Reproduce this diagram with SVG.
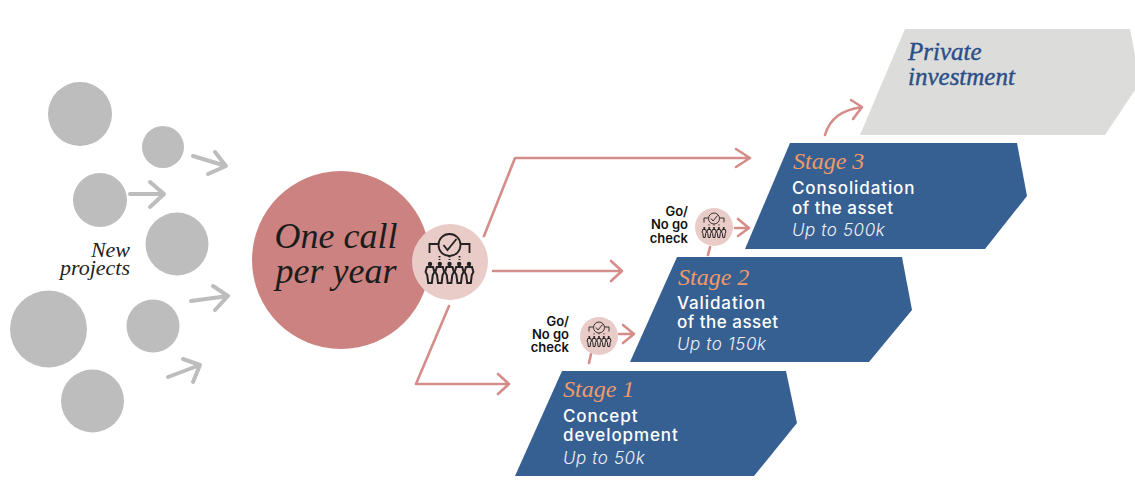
<svg xmlns="http://www.w3.org/2000/svg" width="1135" height="484" viewBox="0 0 1135 484">
<style>
.g{fill:#bdbdbd}
.ga{fill:none;stroke:#bdbdbd;stroke-width:4;stroke-linecap:round;stroke-linejoin:round}
.pa{fill:none;stroke:#d58d8a;stroke-width:2.6;stroke-linecap:round;stroke-linejoin:round}
.st{fill:#376092}
.se{font:italic 24px "Liberation Serif",serif}
.sh{fill:#f09a68}
.b{font:500 17px "Inter","Liberation Sans",sans-serif;fill:#fff;letter-spacing:.9px}
.n{letter-spacing:.5px}
.u{font:italic 300 17px "Inter","Liberation Sans",sans-serif;fill:#eef2f7;letter-spacing:.6px}
.c{font:600 13px "Inter","Liberation Sans",sans-serif;fill:#111;text-anchor:end}
.ic{fill:none;stroke:#222;stroke-width:1.8}
</style>
<defs>
<g id="p"><circle cx="0" cy="-9" r="2.200" fill="#222"/><path d="M-3-6h6l1.400 5-1.600 3-1 8h-3.600l-1-8-1.600-3z" fill="none" stroke="#222" stroke-width="2"/></g>
<g id="icon">
<circle class="ic" cx="0" cy="-17" r="11"/>
<path class="ic" d="M-6-17l4 5 9-11" stroke-width="2.400"/>
<path class="ic" d="M-11-18h-9v9M11-18h9v9"/>
<path class="ic" d="M0-6v4M-10-6v4M10-6v4" stroke-dasharray="1.500 1.500"/>
<use href="#p" x="-19.500" y="11"/><use href="#p" x="-9.700" y="11"/><use href="#p" x="0" y="11"/><use href="#p" x="9.700" y="11"/><use href="#p" x="19.500" y="11"/>
</g>
</defs>
<rect width="1135" height="484" fill="#fff"/>
<g id="new-projects">
<circle class="g" cx="80" cy="114" r="32"/>
<circle class="g" cx="163" cy="147" r="21"/>
<circle class="g" cx="100" cy="200" r="27"/>
<circle class="g" cx="177" cy="244" r="31.500"/>
<circle class="g" cx="48.500" cy="329" r="38.500"/>
<circle class="g" cx="153" cy="326" r="26.500"/>
<circle class="g" cx="92.500" cy="401" r="31.500"/>
<text text-anchor="end" style="font:italic 22px 'Liberation Serif',serif" fill="#222"><tspan x="130" y="257">New</tspan><tspan x="130" y="275">projects</tspan></text>
<path class="ga" d="M193 156L226 166M215 152L226 166L208 174"/>
<path class="ga" d="M130 194H164M150 182L164 194L150 207"/>
<path class="ga" d="M191 301L228 296M213 286L228 296L215 310"/>
<path class="ga" d="M168 377L200 365M183 359L200 365L193 382"/>
</g>
<g id="connectors">
<path class="pa" d="M484 236L515 158H750M736 149L750 158L736 167"/>
<path class="pa" d="M493 271H622M611 261L622 271L611 281"/>
<path class="pa" d="M449 306L416 384H509M498 374L509 384L498 394"/>
<path class="pa" d="M619 334H634M623 325L634 334L623 343"/>
<path class="pa" d="M591 354L589 363"/>
<path class="pa" d="M735 228H749M738 219L749 228L738 236"/>
<path class="pa" d="M710 247L708 255"/>
<path class="pa" d="M825 135C830 118 842 110 862 107M851 100L862 107L853 119"/>
</g>
<g id="one-call">
<circle cx="341" cy="260" r="89" fill="#cb8280"/>
<text text-anchor="middle" style="font:italic 36px 'Liberation Serif',serif" fill="#1c1c1c"><tspan x="336" y="248">One call</tspan><tspan x="336" y="283">per year</tspan></text>
</g>
<g id="review-main">
<circle cx="450" cy="262" r="38" fill="#e9cbc8"/>
<use href="#icon" transform="translate(449.500 262)"/>
</g>
<g id="private-investment">
<path d="M905 29H1130L1135 55V90L1105 135H860Z" fill="#dcdcda"/>
<text class="se" x="908" y="60" fill="#2a4f88" stroke="#2a4f88" stroke-width=".4" style="font-size:25px">Private</text>
<text class="se" x="908" y="85" fill="#2a4f88" stroke="#2a4f88" stroke-width=".4" style="font-size:25px">investment</text>
</g>
<g id="stage-3">
<path class="st" d="M790 143H1017L1027 196L985 249H745Z"/>
<text class="se sh" x="793" y="169">Stage 3</text>
<text class="b" x="792" y="194">Consolidation</text>
<text class="b n" x="792" y="214">of the asset</text>
<text class="u" x="792" y="236">Up to 500k</text>
</g>
<g id="stage-2">
<path class="st" d="M677 257H902L912 310L869 362H630Z"/>
<text class="se sh" x="678" y="285">Stage 2</text>
<text class="b" x="677" y="309">Validation</text>
<text class="b n" x="677" y="328">of the asset</text>
<text class="u" x="677" y="350">Up to 150k</text>
</g>
<g id="stage-1">
<path class="st" d="M562 371H786L797 423L754 476H515Z"/>
<text class="se sh" x="563" y="397">Stage 1</text>
<text class="b" x="563" y="422">Concept</text>
<text class="b" x="563" y="441">development</text>
<text class="u" x="563" y="464">Up to 50k</text>
</g>
<g id="check-1">
<circle cx="599" cy="336" r="19" fill="#e9cbc8"/>
<use href="#icon" transform="translate(599 336) scale(.5)"/>
<text class="c"><tspan x="569" y="326">Go/</tspan><tspan x="569" y="339">No go</tspan><tspan x="569" y="352">check</tspan></text>
</g>
<g id="check-2">
<circle cx="714" cy="227" r="19" fill="#e9cbc8"/>
<use href="#icon" transform="translate(714 227) scale(.5)"/>
<text class="c"><tspan x="688" y="216">Go/</tspan><tspan x="688" y="229">No go</tspan><tspan x="688" y="243">check</tspan></text>
</g>
</svg>
